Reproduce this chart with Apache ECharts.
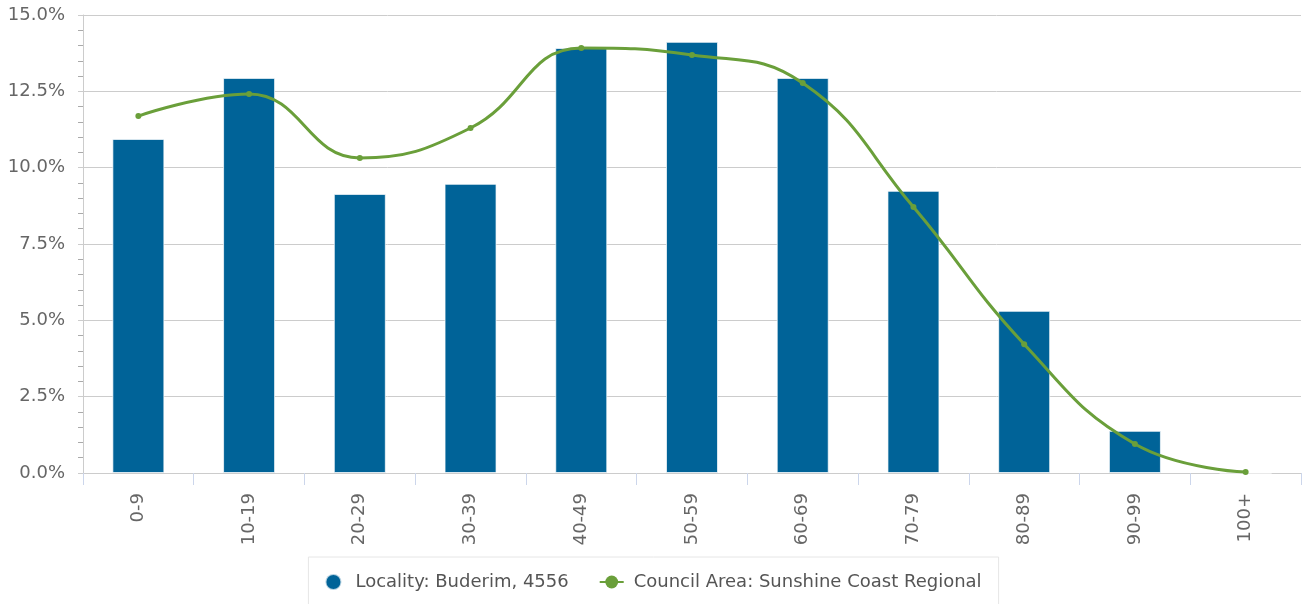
<!DOCTYPE html>
<html>
<head>
<meta charset="utf-8">
<script src="https://cdn.jsdelivr.net/npm/echarts@6/dist/echarts.min.js"></script>
<style>
  html, body { margin: 0; padding: 0; background: #fff; }
  #chart { width: 1306px; height: 604px; }
</style>
</head>
<body>
<div id="chart"></div>
<script>
// age groups
const categories = ['0-9', '10-19', '20-29', '30-39', '40-49', '50-59', '60-69', '70-79', '80-89', '90-99', '100+'];
// Locality: Buderim, 4556 (%)
const localityValues = [10.94, 12.94, 9.14, 9.47, 13.92, 14.12, 12.94, 9.24, 5.31, 1.38, 0];
// Council Area: Sunshine Coast Regional (%)
const councilValues = [11.69, 12.41, 10.32, 11.30, 13.92, 13.69, 12.77, 8.71, 4.22, 0.95, 0.03];
const yTicks = [0, 2.5, 5, 7.5, 10, 12.5, 15];

const font = 'DejaVu Sans';
const fontSize = 18;
const chart = echarts.init(document.getElementById('chart'));

chart.setOption({
  animation: false,
  grid: { left: 83, right: 5, top: 15, bottom: 131, containLabel: false },
  legend: {
    top: 557,
    left: 'center',
    padding: [16, 17, 20, 16],
    borderColor: '#e6e6e6',
    borderWidth: 1,
    itemWidth: 24,
    itemHeight: 16,
    itemGap: 30,
    textStyle: { color: '#555', fontFamily: font, fontSize: fontSize, padding: [0, 0, 0, 5] },
    data: [
      { name: 'Locality: Buderim, 4556', icon: 'circle' },
      { name: 'Council Area: Sunshine Coast Regional' }
    ]
  },
  xAxis: {
    type: 'category',
    data: categories,
    axisLine: { lineStyle: { color: '#ccc' } },
    axisTick: { show: true, length: 12, lineStyle: { color: '#ccd6eb' } },
    axisLabel: { rotate: 90, margin: 20, color: '#666', fontFamily: font, fontSize: fontSize }
  },
  yAxis: {
    type: 'value',
    min: yTicks[0],
    max: yTicks[yTicks.length - 1],
    interval: 2.5,
    axisLine: { show: true, lineStyle: { color: '#ccc' } },
    axisTick: { show: true, length: 5, lineStyle: { color: '#ccc' } },
    minorTick: { show: true, splitNumber: 5, length: 5, lineStyle: { color: '#aaa' } },
    splitLine: { lineStyle: { color: '#ccc' } },
    axisLabel: {
      margin: 18,
      color: '#666',
      fontFamily: font,
      fontSize: fontSize,
      formatter: v => v.toFixed(1) + '%'
    }
  },
  series: [
    {
      name: 'Locality: Buderim, 4556',
      type: 'bar',
      data: localityValues,
      barWidth: 52,
      itemStyle: { color: '#006398', borderColor: 'rgba(255,255,255,0.7)', borderWidth: 1 }
    },
    {
      name: 'Council Area: Sunshine Coast Regional',
      type: 'line',
      data: councilValues,
      smooth: 0.45,
      symbol: 'circle',
      symbolSize: 6,
      itemStyle: { color: '#6a9f3a' },
      lineStyle: { color: '#6a9f3a', width: 3 }
    }
  ]
});
</script>
</body>
</html>
